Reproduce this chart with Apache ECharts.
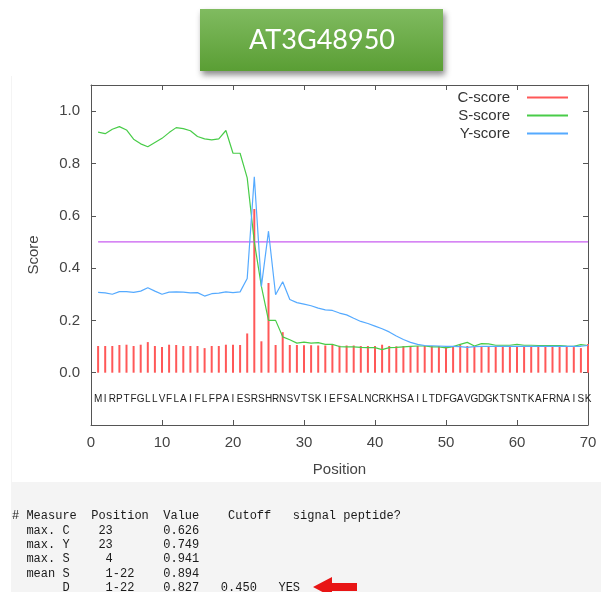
<!DOCTYPE html>
<html><head><meta charset="utf-8">
<script src="https://cdn.jsdelivr.net/npm/echarts@6/dist/echarts.min.js"></script>
<style>html,body{margin:0;padding:0;background:#fff}#c{width:601px;height:592px}</style>
</head><body><div id="c"></div>
<script>
// ---- data ----
const sequence = "MIRPTFGLLVFLAIFLFPAIESRSHRNSVTSKIEFSALNCRKHSAILTDFGAVGDGKTSNTKAFRNAISK".split('');
const cScore = [0.102,0.102,0.102,0.106,0.107,0.102,0.107,0.117,0.102,0.098,
  0.107,0.106,0.102,0.102,0.102,0.094,0.102,0.102,0.107,0.107,
  0.106,0.150,0.626,0.120,0.343,0.106,0.155,0.106,0.106,0.105,
  0.105,0.104,0.104,0.107,0.103,0.104,0.104,0.102,0.102,0.102,
  0.107,0.102,0.101,0.102,0.102,0.102,0.102,0.102,0.102,0.102,
  0.102,0.107,0.102,0.102,0.102,0.102,0.102,0.102,0.102,0.102,
  0.102,0.102,0.102,0.102,0.104,0.102,0.101,0.098,0.094,0.110];
const sScore = [0.920,0.914,0.931,0.941,0.928,0.893,0.875,0.864,0.880,0.896,
  0.918,0.937,0.933,0.925,0.903,0.894,0.890,0.894,0.926,0.839,
  0.839,0.745,0.500,0.330,0.200,0.200,0.137,0.126,0.113,0.117,
  0.113,0.115,0.108,0.108,0.100,0.099,0.099,0.097,0.096,0.096,
  0.088,0.096,0.097,0.099,0.101,0.102,0.102,0.099,0.099,0.095,
  0.100,0.108,0.116,0.102,0.111,0.110,0.105,0.105,0.105,0.108,
  0.105,0.105,0.104,0.104,0.104,0.104,0.102,0.101,0.107,0.104];
const yScore = [0.307,0.305,0.300,0.310,0.310,0.307,0.312,0.325,0.312,0.300,
  0.308,0.309,0.308,0.305,0.306,0.293,0.302,0.304,0.309,0.306,
  0.309,0.360,0.749,0.330,0.541,0.298,0.348,0.280,0.268,0.262,
  0.256,0.247,0.240,0.238,0.228,0.221,0.208,0.196,0.188,0.178,
  0.168,0.156,0.140,0.127,0.116,0.108,0.104,0.103,0.102,0.101,
  0.101,0.100,0.097,0.100,0.101,0.101,0.101,0.101,0.101,0.101,
  0.101,0.101,0.101,0.101,0.101,0.101,0.101,0.101,0.101,0.104];
const cutoffLine = [[1, 0.5], [70, 0.5]];
const xTicks = {min: 0, max: 70, interval: 10};
const yTicks = {min: -0.2, max: 1.1, interval: 0.2};
const seriesNames = ['C-score', 'S-score', 'Y-score'];
const titleText = 'AT3G48950';
const summaryLines = [
  '# Measure  Position  Value    Cutoff   signal peptide?',
  '  max. C    23       0.626',
  '  max. Y    23       0.749',
  '  max. S     4       0.941',
  '  mean S     1-22    0.894',
  '       D     1-22    0.827   0.450   YES'
];

// ---- chart ----
const chart = echarts.init(document.getElementById('c'), null, {renderer: 'canvas'});
const FONT = 'Liberation Sans';
const axisLineStyle = {color: '#555', width: 1};
const pair = arr => arr.map((v, i) => [i + 1, v]);

const baseX = {type: 'value', min: xTicks.min, max: xTicks.max, interval: xTicks.interval,
  splitLine: {show: false}, axisLine: {show: true, onZero: false, lineStyle: axisLineStyle},
  axisTick: {show: true, inside: true, length: 5, lineStyle: axisLineStyle}};
const baseY = {type: 'value', min: yTicks.min, max: yTicks.max, interval: yTicks.interval,
  splitLine: {show: false}, axisLine: {show: true, onZero: false, lineStyle: axisLineStyle},
  axisTick: {show: true, inside: true, length: 5, lineStyle: axisLineStyle}};

chart.setOption({
  backgroundColor: '#ffffff',
  animation: false,
  textStyle: {fontFamily: FONT},
  grid: {left: 91, right: 13, top: 85, bottom: 167, containLabel: false},
  xAxis: [
    Object.assign({}, baseX, {position: 'bottom', name: 'Position', nameLocation: 'middle', nameGap: 37,
      nameTextStyle: {fontSize: 15, color: '#444', fontFamily: FONT},
      axisLabel: {show: true, margin: 10, fontSize: 15, color: '#444', fontFamily: FONT}}),
    Object.assign({}, baseX, {position: 'top', axisLabel: {show: false}})
  ],
  yAxis: [
    Object.assign({}, baseY, {position: 'left', name: 'Score', nameLocation: 'middle', nameGap: 50, nameRotate: 90,
      nameTextStyle: {fontSize: 15, color: '#444', fontFamily: FONT},
      axisLabel: {show: true, margin: 11, fontSize: 15, color: '#444', fontFamily: FONT,
        showMaxLabel: false,
        formatter: v => (v < -0.01 || v > 1.05) ? '' : v.toFixed(1)}}),
    Object.assign({}, baseY, {position: 'right', axisLabel: {show: false}})
  ],
  legend: {data: seriesNames, orient: 'vertical', right: 28, top: 85, align: 'right',
    icon: 'rect', itemWidth: 41, itemHeight: 2, itemGap: 3,
    textStyle: {fontSize: 15, color: '#333', fontFamily: FONT, padding: [0, 12, 0, 0]}},
  graphic: [
    {type: 'rect', z: -10, shape: {x: 11, y: 76, width: 590, height: 516}, style: {fill: '#f4f4f4'}},
    {type: 'rect', z: -9, shape: {x: 12, y: 76, width: 589, height: 406}, style: {fill: '#ffffff'}},
    {type: 'rect', z: 50, shape: {x: 200, y: 9, width: 243, height: 62},
      style: {fill: new echarts.graphic.LinearGradient(0, 0, 0, 1, [
        {offset: 0, color: '#80bb60'}, {offset: 1, color: '#5a9e34'}]),
        shadowBlur: 6, shadowOffsetX: 2, shadowOffsetY: 4, shadowColor: 'rgba(0,0,0,0.45)'}},
    {type: 'text', z: 51, x: 322, y: 40,
      style: {text: titleText, fill: '#ffffff', fontSize: 27, fontFamily: 'Lato', align: 'center', verticalAlign: 'middle'}},
    {type: 'text', z: 5, x: 12, y: 509,
      style: {text: summaryLines.join('\n'), fill: '#1a1a1a', fontSize: 12, fontFamily: 'Liberation Mono',
        lineHeight: 14.3, align: 'left', verticalAlign: 'top'}},
    {type: 'polygon', z: 6,
      shape: {points: [[313, 587], [332, 577], [332, 583], [357, 583], [357, 591], [332, 591], [332, 597]]},
      style: {fill: '#e81515'}}
  ],
  series: [
    {name: 'C-score', type: 'bar', data: pair(cScore), barWidth: 2, itemStyle: {color: '#ff5858'}, z: 2},
    {name: 'cutoff', type: 'line', data: cutoffLine, symbol: 'none', lineStyle: {color: '#c85cf0', width: 1.3}, z: 3},
    {name: 'S-score', type: 'line', data: pair(sScore), symbol: 'none', itemStyle: {color: '#48cc48'},
      lineStyle: {color: '#48cc48', width: 1.2}, z: 4},
    {name: 'Y-score', type: 'line', data: pair(yScore), symbol: 'none', itemStyle: {color: '#55aaff'},
      lineStyle: {color: '#55aaff', width: 1.2}, z: 5},
    {name: 'sequence', type: 'custom', data: sequence.map((s, i) => [i + 1]), encode: {x: 0}, clip: false, z: 5,
      renderItem: (params, api) => {
        const p = api.coord([api.value(0), -0.1]);
        return {type: 'text', x: p[0], y: p[1],
          style: {text: sequence[params.dataIndex], fill: '#222', fontSize: 10, fontFamily: FONT,
            align: 'center', verticalAlign: 'middle'}};
      }}
  ]
});
</script></body></html>
